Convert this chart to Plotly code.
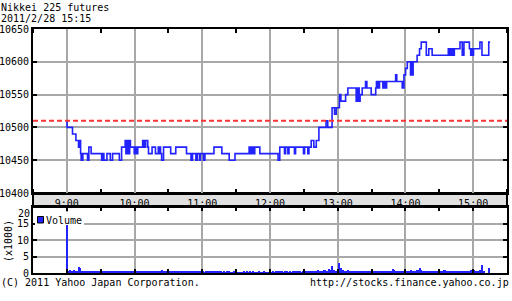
import plotly.graph_objects as go
import pandas as pd

DAY = "2011-02-28"
title_name = "Nikkei 225 futures"
title_stamp = "2011/2/28 15:15"
prev_close = 10510

price_times = [
    "09:00:00", "09:00:10", "09:05:00", "09:08:00", "09:10:20", "09:10:50", "09:11:20", "09:11:50",
    "09:12:10", "09:12:40", "09:13:10", "09:13:40", "09:14:10", "09:18:20", "09:19:30", "09:21:30",
    "09:30:50", "09:31:20", "09:31:50", "09:32:20", "09:32:50", "09:35:30", "09:38:30", "09:40:30",
    "09:46:30", "09:48:30", "09:51:40", "09:52:20", "09:53:00", "09:53:40", "09:54:20", "09:55:00",
    "09:55:40", "09:56:20", "09:59:40", "10:00:20", "10:01:00", "10:01:40", "10:02:20", "10:02:50",
    "10:07:10", "10:07:50", "10:08:30", "10:09:10", "10:09:50", "10:11:40", "10:12:20", "10:15:30",
    "10:18:30", "10:21:00", "10:21:40", "10:22:20", "10:23:00", "10:24:00", "10:25:40", "10:32:00",
    "10:36:30", "10:46:00", "10:50:00", "10:51:20", "10:54:20", "10:55:40", "10:57:40", "10:58:20",
    "11:01:00", "11:02:20", "11:10:20", "11:17:20", "11:23:50", "11:29:00", "11:41:30", "11:42:10",
    "11:42:50", "11:43:30", "11:44:10", "11:45:10", "11:46:30", "11:51:00", "12:07:10", "12:08:40",
    "12:12:50", "12:13:50", "12:15:50", "12:16:50", "12:21:40", "12:22:40", "12:29:40", "12:30:40",
    "12:33:30", "12:34:30", "12:36:30", "12:38:50", "12:41:00", "12:43:20", "12:49:40", "12:51:10",
    "12:55:00", "12:57:10", "12:58:40", "13:01:30", "13:02:10", "13:02:30", "13:02:50", "13:07:00",
    "13:09:00", "13:16:20", "13:17:00", "13:17:40", "13:18:20", "13:19:00", "13:19:50", "13:21:40",
    "13:24:40", "13:25:50", "13:29:40", "13:33:40", "13:34:20", "13:35:00", "13:35:40", "13:36:20",
    "13:37:00", "13:40:00", "13:41:00", "13:42:20", "13:43:20", "13:51:20", "13:52:20", "13:57:10",
    "13:57:40", "13:58:10", "13:58:40", "14:00:10", "14:01:40", "14:04:30", "14:05:10", "14:05:50",
    "14:06:30", "14:06:50", "14:10:20", "14:12:30", "14:14:00", "14:18:30", "14:20:40", "14:23:40",
    "14:38:00", "14:38:40", "14:39:20", "14:40:00", "14:40:40", "14:41:20", "14:42:00", "14:42:40",
    "14:43:20", "14:48:20", "14:50:20", "14:50:50", "14:51:20", "14:51:50", "14:56:40", "14:57:50",
    "14:58:30", "14:59:10", "15:00:20", "15:06:00", "15:07:50", "15:13:50", "15:15:00",
]
price_values = [
    10510, 10500, 10490, 10480, 10470, 10480, 10470, 10480,
    10460, 10450, 10460, 10450, 10460, 10450, 10470, 10460,
    10450, 10460, 10450, 10460, 10450, 10460, 10450, 10460,
    10450, 10470, 10480, 10460, 10480, 10460, 10480, 10460,
    10480, 10470, 10460, 10470, 10460, 10470, 10460, 10470,
    10480, 10470, 10480, 10470, 10480, 10470, 10460, 10470,
    10460, 10470, 10460, 10470, 10460, 10450, 10470, 10460,
    10470, 10460, 10450, 10460, 10450, 10460, 10450, 10460,
    10450, 10460, 10470, 10460, 10450, 10460, 10470, 10460,
    10470, 10460, 10470, 10460, 10470, 10460, 10450, 10470,
    10460, 10470, 10460, 10470, 10460, 10470, 10460, 10470,
    10460, 10470, 10480, 10470, 10480, 10500, 10510, 10500,
    10530, 10520, 10530, 10550, 10540, 10550, 10540, 10550,
    10560, 10540, 10560, 10540, 10560, 10540, 10550, 10560,
    10570, 10560, 10550, 10560, 10570, 10560, 10570, 10560,
    10570, 10560, 10570, 10560, 10570, 10580, 10570, 10560,
    10570, 10560, 10580, 10590, 10600, 10580, 10600, 10590,
    10580, 10600, 10610, 10620, 10630, 10610, 10620, 10610,
    10620, 10610, 10620, 10610, 10620, 10610, 10620, 10610,
    10620, 10630, 10610, 10620, 10610, 10630, 10620, 10610,
    10620, 10610, 10620, 10630, 10610, 10630, 10630,
]

# volume per minute from 9:00 to 15:15, in thousands
volume = [
    14.6, 0.5, 0.4, 0.8, 0.5, 0.6, 0.9, 0.4, 0.5, 0.7, 0.6, 1.8, 1.5, 0.6, 0.5, 0.4, 0.6, 0.5, 0.4, 0.5,
    0.4, 0.5, 0.6, 0.4, 0.3, 0.5, 0.4, 0.6, 0.5, 0.4, 0.5, 0.6, 0.4, 0.3, 0.5, 0.4, 0.5, 0.6, 0.4, 0.5,
    0.3, 0.4, 0.5, 0.4, 0.6, 0.5, 0.3, 0.4, 0.5, 0.7, 0.4, 0.5, 0.6, 0.4, 0.3, 0.5, 0.4, 0.6, 0.5, 0.4,
    0.4, 0.3, 0.5, 0.4, 0.5, 0.3, 0.4, 0.6, 0.5, 0.4, 0.3, 0.4, 0.5, 0.4, 0.3, 0.5, 0.4, 0.3, 0.4, 0.5,
    0.6, 0.5, 0.7, 0.6, 0.8, 0.5, 0.7, 0.6, 0.5, 0.7, 0.6, 0.4, 0.5, 0.4, 0.3, 0.5, 0.4, 0.3, 0.4, 0.5,
    0.4, 0.3, 0.4, 0.5, 0.4, 0.3, 0.4, 0.5, 0.4, 0.3, 0.6, 0.4, 0.5, 0.3, 0.4, 0.5, 0.4, 0.3, 0.4, 0.3,
    0.3, 0.4, 0.3, 0.4, 0.3, 0.4, 0.5, 0.4, 0.3, 0.4, 0.5, 0.4, 0.3, 0.4, 0.3, 0.4, 0.3, 0.4, 0.3, 0.4,
    0.3, 0.3, 0.4, 0.3, 0.4, 0.3, 0.2, 0.3, 0.4, 0.3, 0.2, 0.0, 0.3, 0.2, 0.3, 0.0, 0.3, 0.4, 0.3, 0.3,
    0.4, 0.3, 0.4, 0.3, 0.3, 0.4, 0.3, 0.2, 0.3, 0.3, 0.4, 0.3, 0.2, 0.3, 0.3, 0.4, 0.3, 0.3, 0.2, 0.3,
    0.3, 0.2, 0.3, 0.4, 0.3, 0.5, 0.3, 0.6, 0.4, 0.5, 0.3, 0.4, 0.3, 0.4, 0.3, 0.4, 0.3, 0.3, 0.4, 0.3,
    0.4, 0.5, 0.3, 0.4, 0.3, 0.4, 0.5, 0.4, 0.3, 0.4, 0.5, 0.4, 0.6, 0.5, 0.4, 0.7, 0.5, 0.6, 0.4, 0.5,
    0.6, 0.5, 0.7, 0.8, 0.6, 0.5, 0.7, 0.6, 0.8, 0.9, 0.7, 0.6, 1.1, 0.8, 0.7, 2.1, 0.9, 0.8, 0.6, 0.7,
    0.8, 3.1, 0.7, 1.4, 0.9, 0.8, 0.7, 0.6, 0.7, 0.8, 0.6, 0.7, 0.5, 0.6, 0.7, 0.5, 0.6, 0.5, 0.4, 0.6,
    0.5, 0.4, 0.6, 0.5, 0.4, 0.5, 0.6, 0.5, 0.4, 0.5, 0.4, 0.6, 0.5, 0.4, 0.5, 0.6, 0.5, 0.4, 0.5, 0.6,
    0.5, 0.6, 0.4, 0.5, 0.6, 0.5, 0.4, 0.6, 0.7, 1.2, 0.8, 0.6, 0.5, 0.4, 0.5, 0.6, 0.5, 0.7, 0.6, 0.5,
    0.6, 0.5, 0.7, 0.6, 0.5, 0.8, 0.6, 0.5, 0.6, 0.7, 0.8, 0.6, 1.0, 1.6, 0.9, 0.7, 0.6, 0.5, 0.6, 0.5,
    0.4, 0.5, 0.6, 0.5, 0.4, 0.5, 0.4, 0.5, 0.6, 0.5, 0.4, 0.5, 0.6, 0.7, 0.8, 1.0, 0.7, 0.6, 0.5, 0.4,
    0.5, 0.6, 0.5, 0.4, 0.5, 0.6, 0.5, 0.4, 0.5, 0.6, 0.5, 0.4, 0.5, 0.6, 0.4, 0.5, 0.6, 0.7, 0.8, 0.6,
    1.3, 0.8, 0.6, 0.5, 0.6, 0.7, 0.9, 0.8, 2.4, 0.6, 0.5, 0.0, 0.0, 0.0, 1.5, 0.0,
]

x_range = [DAY + " 08:30", DAY + " 15:30"]
price_y_range = [10400, 10650]
vol_y_range = [0, 20]
vol_ticks = [0, 5, 10, 15]
vol_top_label = 20

BLUE = "#2222ff"
GRID = "#a8a8a8"
FONT = dict(family="DejaVu Sans Mono", size=10, color="black")

px_times = pd.to_datetime([DAY + " " + t for t in price_times])
vol_times = pd.date_range(DAY + " 09:00", periods=len(volume), freq="1min")

W, H = 512, 301
ML, MR, MT, MB = 33, 5, 29, 28
PH = H - MT - MB
def fy(py):
    return (H - MB - py) / PH
def fx(px):
    return (px - ML) / (W - ML - MR)

price_dom = [fy(193), 1.0]
vol_dom = [0.0, fy(207)]

fig = go.Figure()
fig.add_trace(go.Scatter(x=px_times, y=price_values, mode="lines",
                         line=dict(color=BLUE, width=1.6, shape="hv"),
                         xaxis="x", yaxis="y", showlegend=False))
fig.add_trace(go.Bar(x=vol_times, y=volume, width=60000,
                     marker=dict(color=BLUE, line=dict(width=0)),
                     xaxis="x2", yaxis="y2", showlegend=False))

common_x = dict(type="date", range=x_range, showgrid=True, gridcolor=GRID, gridwidth=2,
                tick0=DAY + " 09:00", dtick=3600000, showline=True, linecolor="black",
                linewidth=2, mirror="allticks", zeroline=False, tickfont=FONT,
                tickformat="%-H:%M", automargin=False)
common_y = dict(showgrid=True, gridcolor=GRID, gridwidth=2, ticks="inside", ticklen=4,
                tickwidth=2, tickcolor="black", showline=True, linecolor="black",
                linewidth=2, mirror="allticks", zeroline=False, tickfont=FONT,
                tickformat="d", automargin=False)
fig.update_layout(
    width=W, height=H, margin=dict(l=ML, r=MR, t=MT, b=MB, autoexpand=False),
    paper_bgcolor="white", plot_bgcolor="white",
    font=FONT, bargap=0,
    xaxis=dict(common_x, anchor="y", domain=[0, 1], ticks="", showticklabels=True,
               minor=dict(dtick=1800000, ticks="inside", ticklen=4, tickwidth=2,
                          tickcolor="black", showgrid=False)),
    xaxis2=dict(common_x, anchor="y2", domain=[0, 1], matches="x", ticks="inside",
                ticklen=4, tickwidth=2, tickcolor="black", showticklabels=False,
                minor=dict(dtick=1800000, ticks="inside", ticklen=4, tickwidth=2,
                           tickcolor="black", showgrid=False)),
    yaxis=dict(common_y, domain=price_dom, range=price_y_range, tick0=10400, dtick=50),
    yaxis2=dict(common_y, domain=vol_dom, range=vol_y_range, tickmode="array",
                tickvals=vol_ticks),
)

shapes = [
    # time label band
    dict(type="rect", xref="paper", yref="paper", x0=0, x1=1, y0=vol_dom[1], y1=price_dom[0],
         fillcolor="#e0e0e0", line=dict(color="black", width=2), layer="below"),
    # previous close
    dict(type="line", xref="x domain", yref="y", x0=0, x1=1, y0=prev_close, y1=prev_close,
         line=dict(color="#ff3333", width=2, dash="5px,3px"), layer="above"),
    # legend background and swatch
    dict(type="rect", xref="paper", yref="paper", x0=fx(35), x1=fx(84), y0=fy(225), y1=fy(212),
         fillcolor="white", line=dict(width=0), layer="above"),
    dict(type="rect", xref="paper", yref="paper", x0=fx(37.5), x1=fx(43.5), y0=fy(223), y1=fy(216.5),
         fillcolor=BLUE, line=dict(color="black", width=1), layer="above"),
]
fig.update_layout(shapes=shapes)

ann = [
    dict(text=title_name, x=fx(0), y=fy(7), xanchor="left", yanchor="middle"),
    dict(text=title_stamp, x=fx(0), y=fy(18.5), xanchor="left", yanchor="middle"),
    dict(text="Volume", x=fx(45), y=fy(220.5), xanchor="left", yanchor="middle"),
    dict(text="(x1000)", x=fx(8), y=fy(241), xanchor="center", yanchor="middle", textangle=-90),
    dict(text="(C) 2011 Yahoo Japan Corporation.", x=fx(0), y=fy(282), xanchor="left", yanchor="middle"),
    dict(text="http://stocks.finance.yahoo.co.jp", x=fx(510), y=fy(282), xanchor="right", yanchor="middle"),
]
for a in ann:
    a.update(xref="paper", yref="paper", showarrow=False, font=FONT, borderpad=0)
ann.append(dict(text=str(vol_top_label), xref="paper", yref="y2", x=fx(30.5), y=vol_top_label,
                xanchor="right", yanchor="top", showarrow=False, font=FONT, borderpad=0))
fig.update_layout(annotations=ann)

fig.write_html("out.html")
